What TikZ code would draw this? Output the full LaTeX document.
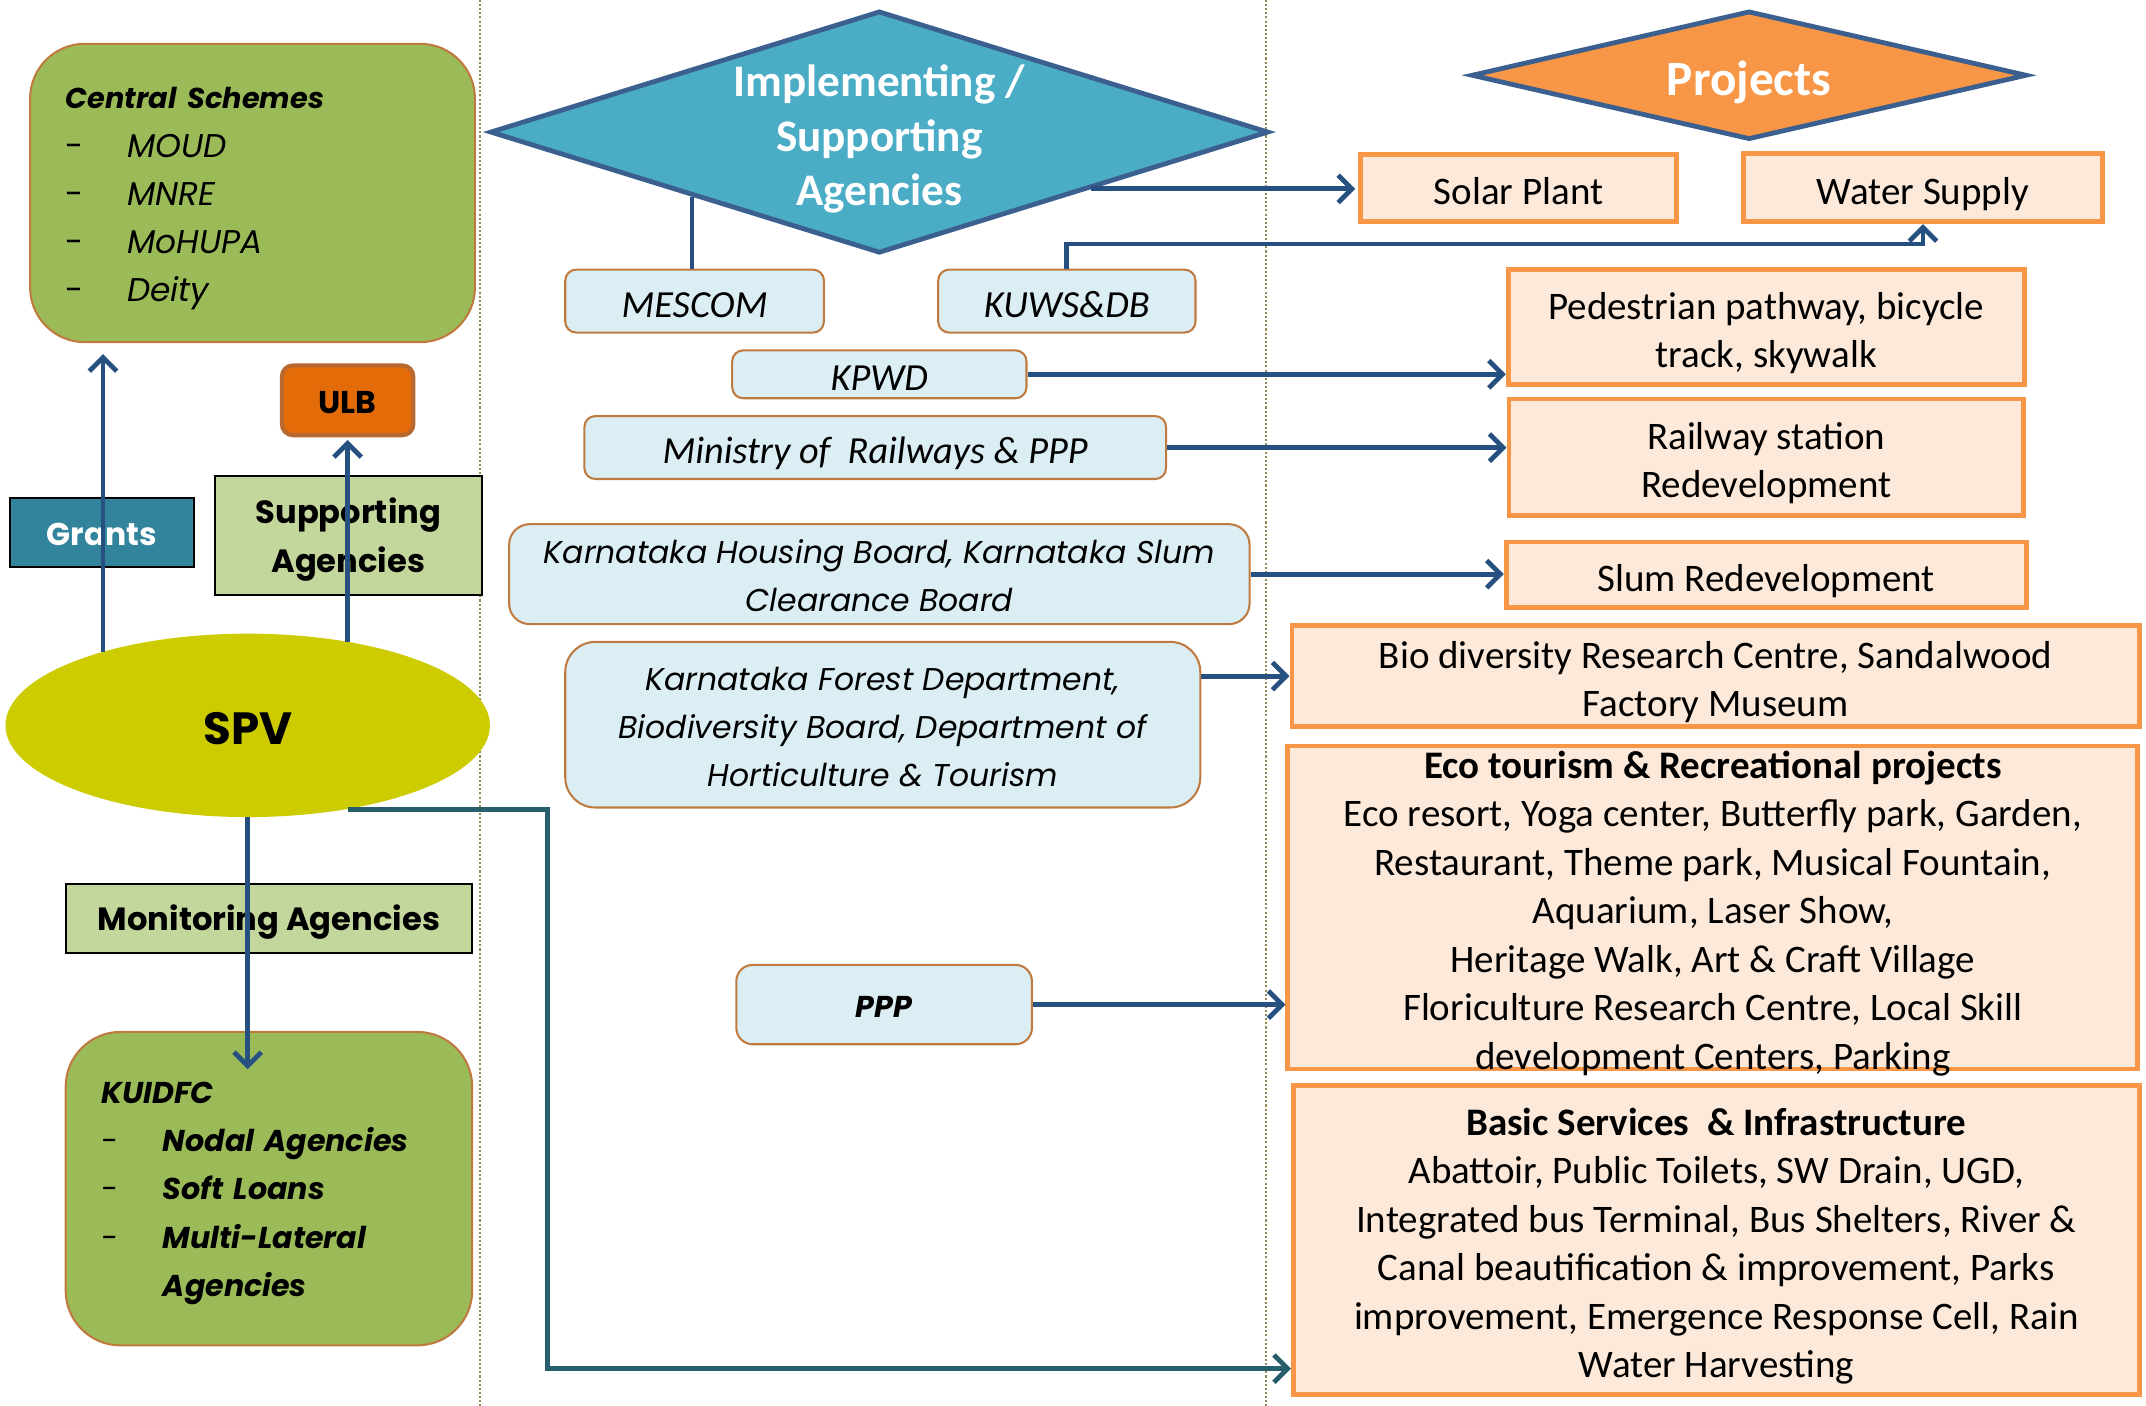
\documentclass[tikz,border=0pt]{standalone}
\usepackage{fontspec}
\setmainfont{Carlito}
\newfontfamily\gothic{Poppins}
\usetikzlibrary{shapes.geometric,arrows.meta,positioning}
\definecolor{leaf}{HTML}{9BBB59}
\definecolor{rust}{HTML}{BF7A40}
\definecolor{sage}{HTML}{C3D69B}
\definecolor{grantc}{HTML}{31849B}
\definecolor{ulbc}{HTML}{E36C09}
\definecolor{ulbedge}{HTML}{B7692F}
\definecolor{spvc}{HTML}{CCCC00}
\definecolor{sky}{HTML}{4BACC6}
\definecolor{rim}{HTML}{3B6090}
\definecolor{tang}{HTML}{F79646}
\definecolor{peach}{HTML}{FDE9D9}
\definecolor{ice}{HTML}{DBEEF4}
\definecolor{navy}{HTML}{25507F}
\definecolor{pine}{HTML}{265E6B}
\definecolor{sepc}{HTML}{948A54}
\newcommand{\listdash}{\makebox[45pt][l]{\mdseries -}}
\newcommand{\evenstrut}{\rule[-0.15em]{0pt}{1.16em}}

\begin{document}
\begin{tikzpicture}[x=1pt,y=-1pt,
   every node/.style={execute at begin node=\evenstrut,execute at end node=\evenstrut},
   gbox/.style={draw=rust,fill=leaf,line width=1.5pt,rounded corners=40pt,inner xsep=26pt,inner ysep=0pt,align=left},
   lbox/.style={draw=black,fill=sage,line width=1.5pt,inner sep=0pt,align=flush center,font=\gothic\bfseries\fontsize{23.5}{36}\selectfont},
   abox/.style={draw=rust,fill=ice,line width=1.5pt,rounded corners=8pt,inner sep=0pt,align=flush center,font=\fontsize{28}{35}\selectfont\itshape},
   pbox/.style={draw=tang,fill=peach,line width=3.5pt,inner sep=0pt,align=flush center,font=\fontsize{28.5}{35.4}\selectfont},
   dia/.style={diamond,draw=rim,line width=3.5pt,inner sep=0pt},
   arr/.style={navy,line width=3.5pt,-{Straight Barb[length=10pt,width=20pt]}},
   sep/.style={sepc,line width=1.5pt,dash pattern=on 1.5pt off 1.5pt}]
   \path[use as bounding box,fill=white] (0,0) rectangle (1568,1027);
   \draw[sep] (351,0) -- (351,1027);
   \draw[sep] (925,0) -- (925,1027);

   \node[gbox,minimum width=325,minimum height=218,text width=273,font=\gothic\fontsize{24}{35.3}\selectfont] (cs) at (184.5,141)
      {\textbf{\textit{\fontsize{21}{35.3}\selectfont Central Schemes}}\\ \listdash\textit{MOUD}\\ \listdash\textit{MNRE}\\ \listdash\textit{MoHUPA}\\ \listdash\textit{Deity}};
   \node[draw=black,fill=grantc,line width=1.5pt,minimum width=135,minimum height=50,text=white,font=\gothic\bfseries\fontsize{23}{28}\selectfont] (grants) at (74.5,389) {Grants};
   \node[draw=ulbedge,fill=ulbc,line width=3pt,rounded corners=8pt,minimum width=96,minimum height=51,font=\gothic\bfseries\fontsize{23}{28}\selectfont] (ulb) at (254,292.5) {ULB};
   \node[lbox,minimum width=195,minimum height=87,text width=190] (sup) at (254.5,391.5) {Supporting\\Agencies};
   \node[ellipse,fill=spvc,minimum width=354,minimum height=134,font=\gothic\bfseries\fontsize{33}{40}\selectfont] (spv) at (181,530) {SPV};
   \node[lbox,minimum width=297,minimum height=50] (mon) at (196.5,671) {Monitoring Agencies};
   \node[gbox,minimum width=297,minimum height=229,text width=245,font=\gothic\bfseries\itshape\fontsize{22}{35.3}\selectfont] (kui) at (196.5,868.5)
      {KUIDFC\\ \listdash Nodal Agencies\\ \listdash Soft Loans\\ \listdash Multi-Lateral\\ \hspace*{45pt}Agencies};

   \node[dia,fill=sky,aspect=3.2,minimum width=569,minimum height=177] (impl) at (642.5,96.5) {};
   \node[text=white,text width=240,align=flush center,font=\bfseries\fontsize{33}{40}\selectfont] (impltxt) at (impl.center) {Implementing /\\Supporting\\Agencies};
   \node[abox,minimum width=189,minimum height=46] (mescom) at (507.5,220) {MESCOM};
   \node[abox,minimum width=188,minimum height=46] (kuws) [right=82pt of mescom] {KUWS\&DB};
   \node[abox,minimum width=215,minimum height=35] (kpwd) at (642.5,273.5) {KPWD};
   \node[abox,minimum width=425,minimum height=46] (rail) at (639.5,327) {Ministry of~ Railways \& PPP};
   \node[abox,rounded corners=15pt,minimum width=541,minimum height=73,text width=525,font=\gothic\itshape\fontsize{23}{35}\selectfont] (khb) at (642.5,419.5) {Karnataka Housing Board, Karnataka Slum\\Clearance Board};
   \node[abox,rounded corners=22pt,minimum width=464,minimum height=121,text width=450,font=\gothic\itshape\fontsize{23}{35}\selectfont] (kfd) at (645,529.5) {Karnataka Forest Department,\\Biodiversity Board, Department of\\Horticulture \& Tourism};
   \node[abox,rounded corners=12pt,minimum width=216,minimum height=58,font=\gothic\bfseries\itshape\fontsize{22}{30}\selectfont] (ppp) at (646,734) {PPP};

   \node[dia,fill=tang,aspect=4.3,minimum width=406,minimum height=94,text=white,font=\bfseries\fontsize{36}{40}\selectfont] (proj) at (1278,55) {Projects};
   \node[pbox,minimum width=231,minimum height=49] (solar) at (1109.5,137.5) {Solar Plant};
   \node[pbox,minimum width=262,minimum height=50] (water) at (1405,137) {Water Supply};
   \node[pbox,minimum width=377,minimum height=84,text width=360] (ped) at (1290.5,239) {Pedestrian pathway, bicycle\\track, skywalk};
   \node[pbox,minimum width=376,minimum height=85,text width=360] (rstat) [below=7pt of ped] {Railway station\\Redevelopment};
   \node[pbox,minimum width=380,minimum height=48] (slum) [below=16pt of rstat] {Slum Redevelopment};
   \node[pbox,minimum width=619,minimum height=74,text width=600] (bio) at (1253.5,494) {Bio diversity Research Centre, Sandalwood\\Factory Museum};
   \node[pbox,minimum width=621,minimum height=236,text width=600,inner ysep=-10pt] (eco) at (1251.5,663)
      {\textbf{Eco tourism \& Recreational projects}\\Eco resort, Yoga center, Butterfly park, Garden,\\Restaurant, Theme park, Musical Fountain,\\Aquarium, Laser Show,\\Heritage Walk, Art \& Craft Village\\Floriculture Research Centre, Local Skill\\development Centers, Parking};
   \node[pbox,minimum width=618,minimum height=226,text width=600] (basic) at (1254,906)
      {\textbf{Basic Services~ \& Infrastructure}\\Abattoir, Public Toilets, SW Drain, UGD,\\Integrated bus Terminal, Bus Shelters, River \&\\Canal beautification \& improvement, Parks\\improvement, Emergence Response Cell, Rain\\Water Harvesting};

   \path[arr]
   (spv.153) edge[shorten >=8pt] (spv.153 |- cs.south)
   (spv.40) edge[shorten >=2pt] (spv.40 |- ulb.south)
   (spv.south) edge[shorten >=-28pt] (spv.south |- kui.north)
   (impl.-15) edge[shorten >=2pt] (impl.-15 -| solar.west)
   (kpwd.east) edge (kpwd.east -| ped.west)
   (rail.east) edge (rail.east -| rstat.west)
   (khb.east) edge (khb.east -| slum.west)
   (kfd.east |- bio.west) edge (bio.west)
   (ppp.east) edge (ppp.east -| eco.west);
   \draw[navy,line width=3.5pt] (impl.-161) -- (impl.-161 |- mescom.north);
   \draw[arr] (kuws.north) -- ++(0,-18) -| (water.south);
   \coordinate (elbow) at (400,1000);
   \draw[arr,pine] (spv.-40) -| (elbow) -- (elbow -| basic.west);
\end{tikzpicture}
\end{document}
